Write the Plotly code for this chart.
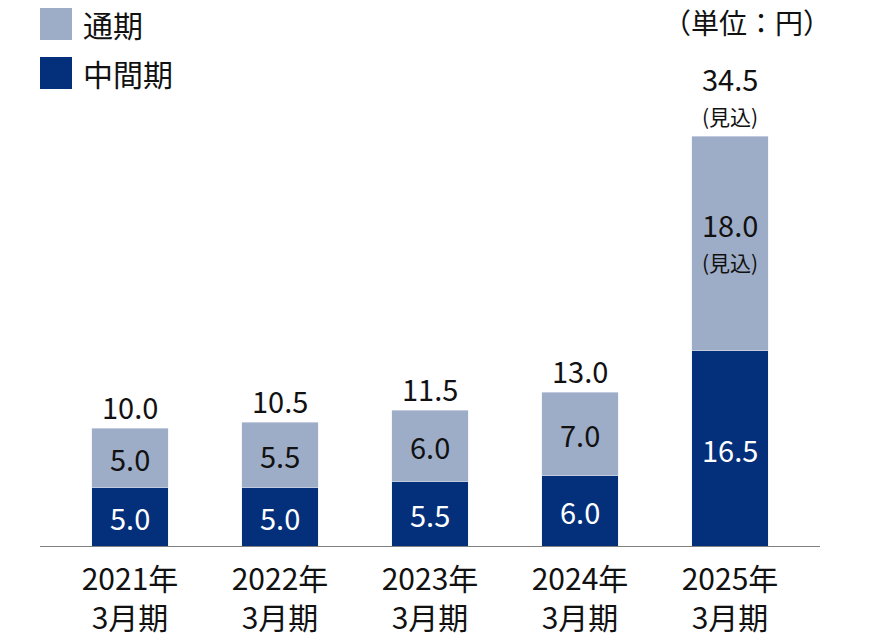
import plotly.graph_objects as go

categories = ["2021年<br>3月期", "2022年<br>3月期", "2023年<br>3月期", "2024年<br>3月期", "2025年<br>3月期"]
interim = [5.0, 5.0, 5.5, 6.0, 16.5]
full_year_add = [5.0, 5.5, 6.0, 7.0, 18.0]
totals = [10.0, 10.5, 11.5, 13.0, 34.5]
forecast = [False, False, False, False, True]
forecast_note = "(見込)"

LIGHT = "#9eadc7"
DARK = "#032f7b"
FONT = "Noto Sans CJK JP"
TXT = "#111111"

W, H = 870, 640
L, R, T, B = 40, 50, 0, 93
plot_w = W - L - R
plot_h = H - T - B

x = list(range(len(categories)))
fig = go.Figure()
fig.add_bar(x=x, y=interim, marker_color=DARK, width=0.507, showlegend=False, name="中間期")
fig.add_bar(x=x, y=full_year_add, marker_color=LIGHT, width=0.507, showlegend=False, name="通期")

VS = 29
NS = 21
ann = []
for i in x:
    ann.append(dict(x=i, y=interim[i] / 2, xref="x", yref="y", text=f"{interim[i]:.1f}",
                    showarrow=False, font=dict(family=FONT, size=VS, color="white")))
    mid = interim[i] + full_year_add[i] / 2
    if forecast[i]:
        ann.append(dict(x=i, y=mid, xref="x", yref="y", text=f"{full_year_add[i]:.1f}", yshift=20,
                        showarrow=False, font=dict(family=FONT, size=VS, color=TXT)))
        ann.append(dict(x=i, y=mid, xref="x", yref="y", text=forecast_note, yshift=-18,
                        showarrow=False, font=dict(family=FONT, size=NS, color=TXT)))
        ann.append(dict(x=i, y=totals[i], xref="x", yref="y", text=f"{totals[i]:.1f}", yshift=58,
                        showarrow=False, font=dict(family=FONT, size=VS, color=TXT)))
        ann.append(dict(x=i, y=totals[i], xref="x", yref="y", text=forecast_note, yshift=20,
                        showarrow=False, font=dict(family=FONT, size=NS, color=TXT)))
    else:
        ann.append(dict(x=i, y=mid, xref="x", yref="y", text=f"{full_year_add[i]:.1f}",
                        showarrow=False, font=dict(family=FONT, size=VS, color=TXT)))
        ann.append(dict(x=i, y=totals[i], xref="x", yref="y", text=f"{totals[i]:.1f}", yshift=22,
                        showarrow=False, font=dict(family=FONT, size=VS, color=TXT)))

def px(v):
    return (v - L) / plot_w

def py(v):
    return 1 - (v - T) / plot_h

shapes = [
    dict(type="rect", xref="paper", yref="paper", x0=px(40), x1=px(72), y0=py(40), y1=py(8),
         fillcolor=LIGHT, line_width=0),
    dict(type="rect", xref="paper", yref="paper", x0=px(40), x1=px(72), y0=py(89), y1=py(57),
         fillcolor=DARK, line_width=0),
    dict(type="line", xref="paper", yref="y", x0=0, x1=1, y0=0, y1=0,
         line=dict(color="#808080", width=2)),
]
ann += [
    dict(x=px(81), y=py(24), xref="paper", yref="paper", text="通期", xanchor="left", yanchor="middle",
         showarrow=False, font=dict(family=FONT, size=30, color=TXT)),
    dict(x=px(81), y=py(73), xref="paper", yref="paper", text="中間期", xanchor="left", yanchor="middle",
         showarrow=False, font=dict(family=FONT, size=30, color=TXT)),
    dict(x=px(833), y=py(22), xref="paper", yref="paper", text="（単位：円）", xanchor="right", yanchor="middle",
         showarrow=False, font=dict(family=FONT, size=28, color=TXT)),
]

fig.update_layout(
    width=W, height=H, barmode="stack",
    margin=dict(l=L, r=R, t=T, b=B),
    paper_bgcolor="white", plot_bgcolor="white",
    annotations=ann, shapes=shapes,
    xaxis=dict(tickvals=x, ticktext=categories, range=[-0.6, 4.6], showgrid=False, zeroline=False,
               showline=False, ticks="", tickfont=dict(family=FONT, size=30, color=TXT),
               ticklabelstandoff=12),
    yaxis=dict(range=[0, plot_h / 11.9], visible=False, showgrid=False, zeroline=False),
)

fig.write_html("out.html")
